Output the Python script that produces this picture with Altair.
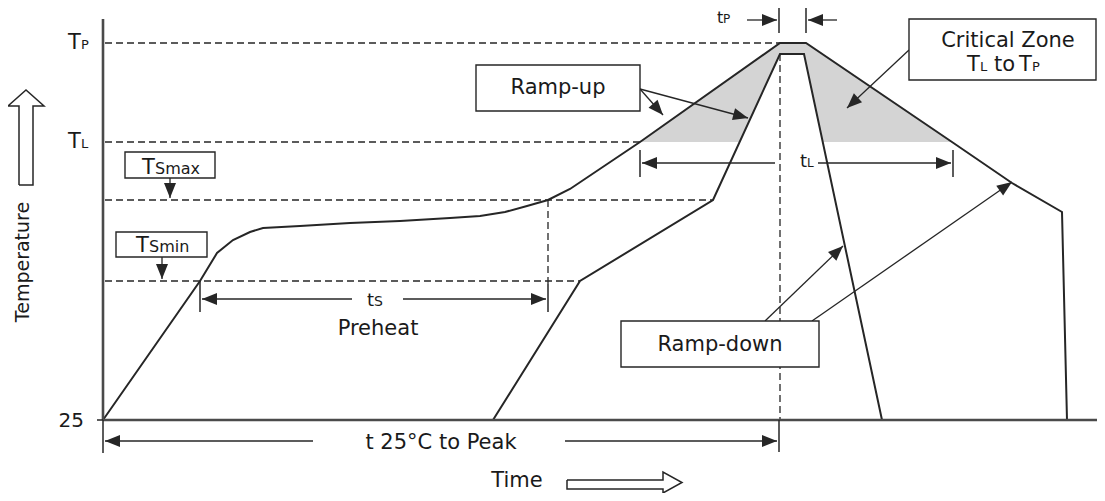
import math
import altair as alt
import pandas as pd

# ---- profile curves (time units on x, temperature drawn downward-increasing screen units on y) ----
max_time = [103, 200, 217, 233, 250, 263, 300, 350, 400, 450, 480, 505, 527, 548, 570, 640, 780, 806, 952, 1012, 1062, 1067]
max_temp = [420, 281, 253, 240, 232, 228, 226, 223, 221, 218, 216, 212, 206, 200, 189, 142, 43, 43, 142, 183, 212, 420]
min_time = [493, 580, 713, 780, 804, 882]
min_temp = [420, 281, 200, 54, 54, 420]

# critical zone shading (outer and inner outline above TL)
crit_time = [640, 780, 806, 952]
crit_temp = [142, 43, 43, 142]
inner_time = [739.6, 780, 804, 822.8]
inner_temp = [142, 54, 54, 142]
TL_LEVEL = 142

# dashed reference lines (x0, y0, x1, y1)
dash_x0 = [105, 105, 105, 105, 780, 548]
dash_y0 = [43, 142, 200, 281, 54, 200]
dash_x1 = [780, 640, 713, 580, 780, 548]
dash_y1 = [43, 142, 200, 281, 420, 284]

# axes
axis_x0 = [103, 103]
axis_y0 = [19, 420]
axis_x1 = [103, 1105]
axis_y1 = [420, 420]

# small solid ticks
tick_x0 = [97, 200, 548, 640, 953, 779, 806, 103, 779]
tick_y0 = [420, 281, 284, 150, 150, 5, 5, 420, 420]
tick_x1 = [103, 200, 548, 640, 953, 779, 806, 103, 779]
tick_y1 = [420, 312, 312, 177, 177, 33, 33, 453, 452]

# arrows: from (x0,y0) with head at (x1,y1)
arr_x0 = [352, 403, 775, 818, 747, 837, 313, 565, 170, 162, 640, 640, 909, 765, 812]
arr_y0 = [299, 299, 163, 163, 20, 20, 441, 441, 178, 257, 89, 89, 50, 321, 321]
arr_x1 = [202, 546, 642, 951, 777, 808, 105, 777, 170, 162, 663, 748, 847, 843, 1012]
arr_y1 = [299, 299, 163, 163, 20, 20, 441, 441, 198, 279, 115, 118, 108, 246, 182]

# hollow direction arrows (closed outlines)
up_arrow_x = [19, 19, 8, 26, 44, 33, 33, 19]
up_arrow_y = [185, 106, 106, 90, 106, 106, 185, 185]
right_arrow_x = [567, 663, 663, 682, 663, 663, 567, 567]
right_arrow_y = [480, 480, 472, 482.5, 493, 489, 489, 480]

# annotation boxes
box_x0 = [125, 116, 476, 909, 621]
box_y0 = [152, 232, 65, 19, 321]
box_x1 = [215, 207, 640, 1096, 819]
box_y1 = [178, 257, 111, 80, 367]

# centred labels
lab_text = ["Ramp-up", "Ramp-down", "Critical Zone", "Preheat", "t 25°C to Peak", "Time"]
lab_x = [558, 720, 1008, 378, 441, 517]
lab_y = [94, 351, 47, 335, 449, 487]

# labels with subscripts (left aligned pieces)
sub_text = ["T", "P", "T", "L", "T", "Smax", "T", "Smin", "t", "P", "t", "L", "t", "S", "T", "L", "to", "T", "P"]
sub_x = [68, 81, 68, 81, 142, 155, 136, 149, 717, 723, 800, 807, 367, 374, 967, 980, 994, 1019, 1032]
sub_y = [49, 49, 148, 148, 174, 174, 252, 252, 23, 23, 167, 167, 306, 306, 71, 71, 71, 71, 71]
sub_size = [21, 13, 21, 13, 21, 16, 21, 16, 16, 12, 18, 12, 18, 14, 21, 13, 21, 21, 13]

INK = "#262626"
FONT = "DejaVu Sans"

XS = alt.Scale(domain=[8, 1097], nice=False, zero=False)
YS = alt.Scale(domain=[8, 493], nice=False, zero=False, reverse=True)


def ex(f="x"):
    return alt.X(f"{f}:Q", scale=XS, axis=None)


def ey(f="y"):
    return alt.Y(f"{f}:Q", scale=YS, axis=None)


def rules(x0, y0, x1, y1, color=INK, **kw):
    df = pd.DataFrame({"x": x0, "y": y0, "x2": x1, "y2": y1})
    return alt.Chart(df).mark_rule(color=color, strokeCap="butt", **kw).encode(
        x=ex(), y=ey(), x2="x2:Q", y2="y2:Q")


def polyline(series, **kw):
    rows = []
    for sid, (xs, ys) in enumerate(series):
        for i, (a, b) in enumerate(zip(xs, ys)):
            rows.append({"s": sid, "i": i, "x": a, "y": b})
    return alt.Chart(pd.DataFrame(rows)).mark_line(color=INK, **kw).encode(
        x=ex(), y=ey(), detail="s:N", order="i:Q")


def area(xs, ys, color):
    df = pd.DataFrame({"x": xs, "y": ys, "y2": [TL_LEVEL] * len(xs)})
    return alt.Chart(df).mark_area(color=color, opacity=1, orient="vertical", interpolate="linear").encode(
        x=ex(), y=alt.Y("y:Q", scale=YS, axis=None, stack=None), y2="y2:Q")


# arrowhead angles from the arrow data
ang = []
for a, b, c, d in zip(arr_x0, arr_y0, arr_x1, arr_y1):
    ang.append(math.degrees(math.atan2(c - a, -(d - b))) % 360)
heads_df = pd.DataFrame({"x": arr_x1, "y": arr_y1, "ang": ang})
heads = alt.Chart(heads_df).mark_point(
    shape="M0,0 L-0.8,2 L0.8,2 Z", filled=True, opacity=1, color=INK, strokeWidth=0, size=225
).encode(x=ex(), y=ey(), angle=alt.Angle("ang:Q", scale=None))

boxes = alt.Chart(pd.DataFrame({"x": box_x0, "y": box_y0, "x2": box_x1, "y2": box_y1})).mark_rect(
    fill="white", stroke=INK, strokeWidth=1.4).encode(x=ex(), y=ey(), x2="x2:Q", y2="y2:Q")

labels = alt.Chart(pd.DataFrame({"x": lab_x, "y": lab_y, "t": lab_text})).mark_text(
    font=FONT, fontSize=21, align="center", baseline="alphabetic", color="#1a1a1a").encode(
    x=ex(), y=ey(), text="t:N")

subs = alt.Chart(pd.DataFrame({"x": sub_x, "y": sub_y, "t": sub_text, "s": sub_size})).mark_text(
    font=FONT, align="left", baseline="alphabetic", color="#1a1a1a").encode(
    x=ex(), y=ey(), text="t:N", size=alt.Size("s:Q", scale=None))

tick25 = alt.Chart(pd.DataFrame({"x": [84], "y": [427], "t": ["25"]})).mark_text(
    font=FONT, fontSize=20, align="right", baseline="alphabetic", color="#1a1a1a").encode(
    x=ex(), y=ey(), text="t:N")

ytitle = alt.Chart(pd.DataFrame({"x": [28.5], "y": [262], "t": ["Temperature"]})).mark_text(
    font=FONT, fontSize=19, align="center", baseline="alphabetic", angle=270, color="#1a1a1a").encode(
    x=ex(), y=ey(), text="t:N")

chart = alt.layer(
    area(crit_time, crit_temp, "#d4d4d4"),
    area(inner_time, inner_temp, "white"),
    rules(dash_x0, dash_y0, dash_x1, dash_y1, strokeWidth=1.3, strokeDash=[7, 4]),
    polyline([(max_time, max_temp), (min_time, min_temp)], strokeWidth=2, strokeJoin="miter"),
    rules(axis_x0, axis_y0, axis_x1, axis_y1, color="#4a4a4a", strokeWidth=2.6),
    rules(tick_x0, tick_y0, tick_x1, tick_y1, strokeWidth=1.5),
    rules(arr_x0, arr_y0, arr_x1, arr_y1, strokeWidth=1.3),
    heads,
    polyline([(up_arrow_x, up_arrow_y), (right_arrow_x, right_arrow_y)], strokeWidth=1.5, strokeJoin="miter"),
    boxes,
    labels,
    subs,
    tick25,
    ytitle,
).properties(
    width=1089, height=485, padding=0, autosize=alt.AutoSizeParams(type="none"), background="white"
).configure_view(stroke=None)

chart.save("out.html", embed_options={"renderer": "svg", "actions": False})
